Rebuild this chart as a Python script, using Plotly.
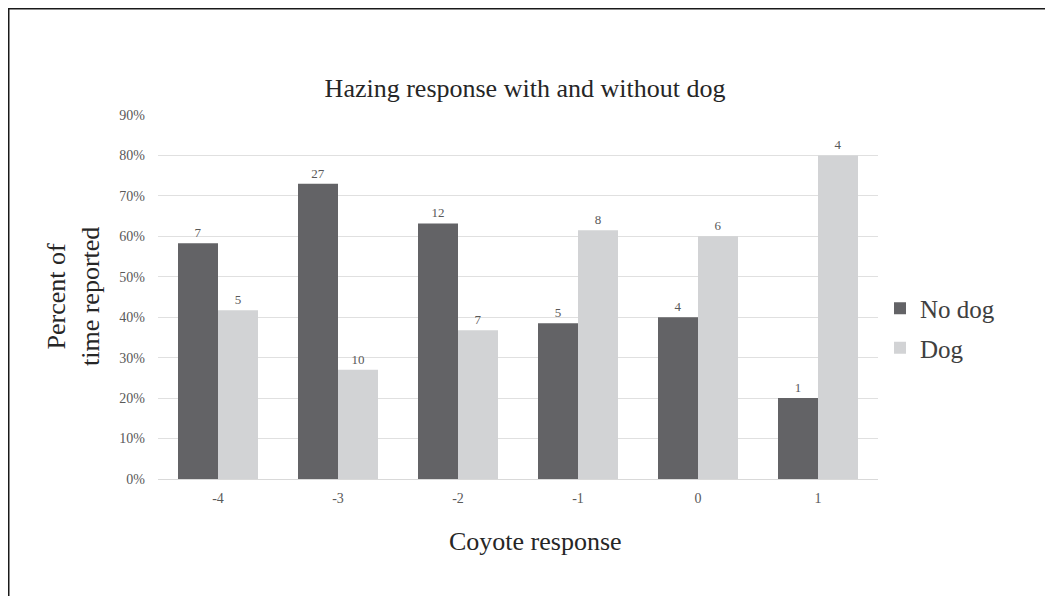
import plotly.graph_objects as go

categories = ["-4", "-3", "-2", "-1", "0", "1"]
no_dog_pct = [58.3, 73.0, 63.2, 38.5, 40.0, 20.0]
dog_pct = [41.7, 27.0, 36.8, 61.5, 60.0, 80.0]
no_dog_n = [7, 27, 12, 5, 4, 1]
dog_n = [5, 10, 7, 8, 6, 4]

FONT = "Liberation Serif"
W, H = 1045, 588
L, R, T, B = 150, 175, 107, 117
pw = W - L - R
ph = H - T - B
Y0 = T + ph  # pixel y of 0%


def px_x(x):
    return (x - L) / pw


def px_y(y):
    return (Y0 - y) / ph


fig = go.Figure()
fig.add_trace(go.Bar(
    name="No dog", x=categories, y=no_dog_pct, text=no_dog_n, legendgroup="a",
    textposition="outside", cliponaxis=False,
    textfont=dict(family=FONT, size=13, color="#595959"),
    marker=dict(color="#636366", line=dict(width=0)),
))
fig.add_trace(go.Bar(
    name="Dog", x=categories, y=dog_pct, text=dog_n, legendgroup="b",
    textposition="outside", cliponaxis=False,
    textfont=dict(family=FONT, size=13, color="#595959"),
    marker=dict(color="#d2d3d5", line=dict(width=0)),
))

fig.update_layout(
    width=W, height=H,
    margin=dict(l=L, r=R, t=T, b=B),
    paper_bgcolor="white", plot_bgcolor="white",
    font=dict(family=FONT, color="#404040"),
    barmode="group", bargap=1/3, bargroupgap=0,
    title=dict(text="Hazing response with and without dog",
               x=px_x(517), xanchor="center", xref="paper", y=1 - 80 / H, yanchor="middle",
               font=dict(family=FONT, size=26, color="#262626")),
    showlegend=True,
    legend=dict(x=px_x(872), y=px_y(320), xanchor="left", yanchor="middle",
                font=dict(family=FONT, size=25, color="#404040"),
                bgcolor="rgba(0,0,0,0)", tracegroupgap=4),
    uniformtext=dict(mode=False),
)
fig.update_xaxes(
    type="category", showgrid=False, showline=True, linecolor="#d9d9d9", linewidth=1,
    ticks="", ticklabelstandoff=6, tickfont=dict(family=FONT, size=14, color="#595959"),
)
fig.update_yaxes(
    range=[0, 90], dtick=10, ticksuffix="%", showgrid=True, gridcolor="#e0e0e0",
    gridwidth=1, zeroline=False, showline=False, ticks="", ticklabelstandoff=12,
    tickfont=dict(family=FONT, size=14, color="#595959"),
)

fig.add_annotation(
    text="Percent of<br>time reported", xref="paper", yref="paper",
    x=px_x(65), y=px_y(289), textangle=-90, showarrow=False,
    font=dict(family=FONT, size=26, color="#262626"), xanchor="center", yanchor="middle",
)
fig.add_annotation(
    text="Coyote response", xref="paper", yref="paper",
    x=px_x(527), y=px_y(533), showarrow=False,
    font=dict(family=FONT, size=26, color="#262626"), xanchor="center", yanchor="middle",
)

fig.add_shape(
    type="rect", xref="paper", yref="paper",
    x0=px_x(0.75), x1=px_x(W + 20), y0=px_y(H + 20), y1=px_y(0.75),
    line=dict(color="#1a1a1a", width=1.5), fillcolor="rgba(0,0,0,0)", layer="below",
)

fig.write_html("out.html")
